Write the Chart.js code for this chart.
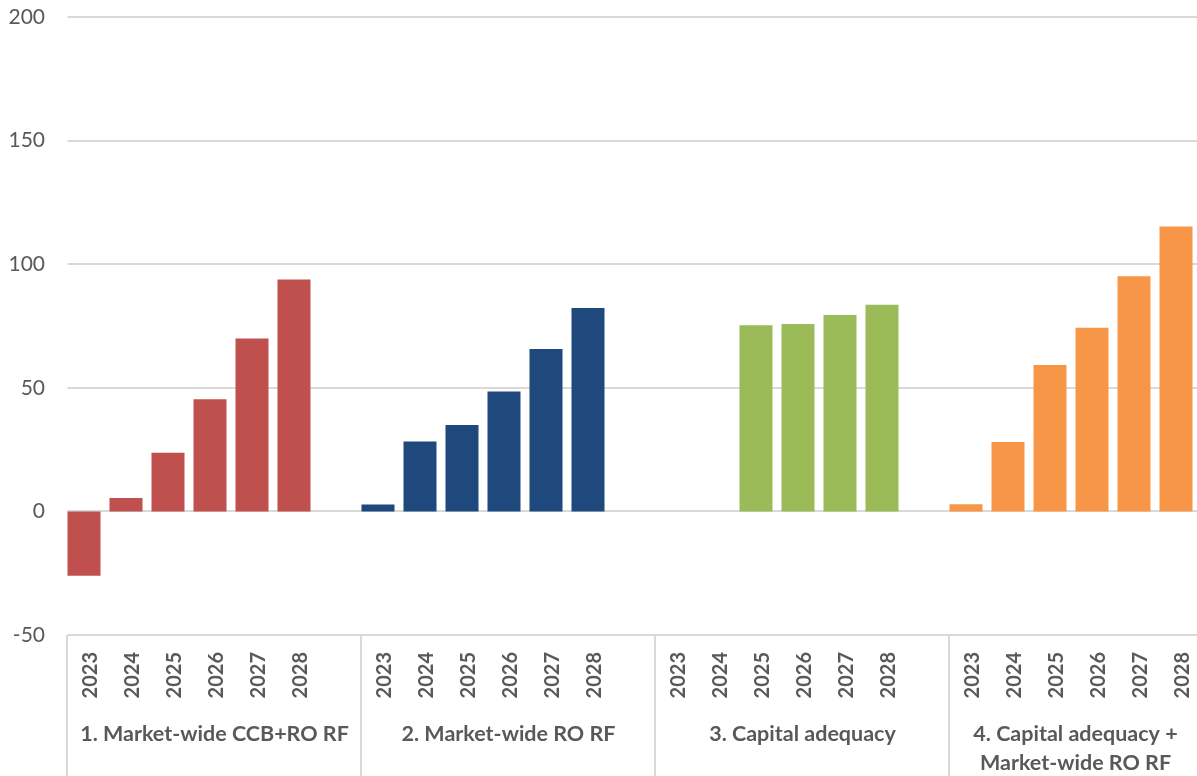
<!DOCTYPE html>
<html>
<head>
<meta charset="utf-8">
<script src="https://cdn.jsdelivr.net/npm/chart.js@4/dist/chart.umd.min.js"></script>
<style>
  html, body { margin: 0; padding: 0; background: #ffffff; overflow: hidden; }
  #wrap { width: 1197px; height: 776px; position: relative; }
</style>
</head>
<body>
<div id="wrap"><canvas id="chart"></canvas></div>
<script>
// Scenario groups and the years shown within each
const groupNames = [
  ['1. Market-wide CCB+RO RF'],
  ['2. Market-wide RO RF'],
  ['3. Capital adequacy'],
  ['4. Capital adequacy +', 'Market-wide RO RF']
];
const years = ['2023', '2024', '2025', '2026', '2027', '2028'];

// Values per scenario, 2023-2028
const marketWideCcbRo = [-26, 5.4, 23.7, 45.4, 69.9, 93.8];
const marketWideRo = [2.8, 28.3, 35.0, 48.5, 65.7, 82.3];
const capitalAdequacy = [null, null, 75.3, 75.8, 79.4, 83.6];
const capitalAdequacyRo = [2.9, 28.1, 59.2, 74.3, 95.1, 115.3];

const yTicks = [-50, 0, 50, 100, 150, 200];

const seriesValues = [marketWideCcbRo, marketWideRo, capitalAdequacy, capitalAdequacyRo];
const seriesColors = ['#C0504D', '#1F497D', '#9BBB59', '#F79646'];

// Flat category list: six years per group, one blank slot between groups
const labels = [];
const groupStart = [];
const groupSize = [];
seriesValues.forEach((vals, g) => {
  groupStart.push(labels.length);
  years.forEach(y => labels.push(y));
  if (g < seriesValues.length - 1) labels.push('');
  groupSize.push(labels.length - groupStart[g]);
});

const BAR_PCT = 0.786;

const datasets = seriesValues.map((vals, g) => {
  const data = labels.map(() => null);
  vals.forEach((v, i) => { data[groupStart[g] + i] = v; });
  return {
    label: groupNames[g].join(' '),
    data,
    backgroundColor: seriesColors[g],
    borderWidth: 0,
    grouped: false,
    barPercentage: BAR_PCT,
    categoryPercentage: 1.0
  };
});

const GRID = '#D9D9D9';
const TEXT = '#595959';
const FONT = 'Lato, "Open Sans", "DejaVu Sans", sans-serif';

function barGeometry(chart) {
  const x = chart.scales.x;
  const slot = x.getPixelForValue(1) - x.getPixelForValue(0);
  const barW = slot * BAR_PCT;
  return { x, slot, barW };
}

// Horizontal gridlines, the category separators and the group captions
const axisDecor = {
  id: 'axisDecor',
  beforeDatasetsDraw(chart) {
    const { ctx, chartArea, scales } = chart;
    const { x, barW } = barGeometry(chart);
    const left = x.getPixelForValue(0) - barW / 2;
    ctx.save();
    ctx.strokeStyle = GRID;
    ctx.lineWidth = 2;
    yTicks.forEach(t => {
      const py = Math.round(scales.y.getPixelForValue(t));
      ctx.beginPath();
      ctx.moveTo(left, py);
      ctx.lineTo(chartArea.right, py);
      ctx.stroke();
    });
    ctx.restore();
  },
  afterDraw(chart) {
    const { ctx, chartArea, height } = chart;
    const { x, slot, barW } = barGeometry(chart);
    ctx.save();
    ctx.strokeStyle = GRID;
    ctx.lineWidth = 2;
    groupStart.forEach((s, g) => {
      const gl = x.getPixelForValue(s) - barW / 2;
      const gr = gl + groupSize[g] * slot;
      ctx.beginPath();
      ctx.moveTo(Math.round(gl), chartArea.bottom);
      ctx.lineTo(Math.round(gl), height);
      ctx.stroke();

      ctx.fillStyle = TEXT;
      ctx.font = 'bold 21.5px ' + FONT;
      ctx.textAlign = 'center';
      ctx.textBaseline = 'middle';
      groupNames[g].forEach((ln, i) => {
        ctx.fillText(ln, (gl + gr) / 2, 734 + i * 29);
      });
    });
    ctx.restore();
  }
};

new Chart(document.getElementById('chart'), {
  type: 'bar',
  data: { labels, datasets },
  plugins: [axisDecor],
  options: {
    responsive: true,
    maintainAspectRatio: false,
    animation: false,
    layout: { padding: { top: 17, right: 0, left: 0, bottom: 0 } },
    plugins: { legend: { display: false }, tooltip: { enabled: false } },
    scales: {
      x: {
        grid: { display: false, drawTicks: false },
        border: { display: false },
        ticks: {
          autoSkip: false,
          minRotation: 90,
          maxRotation: 90,
          padding: 17,
          labelOffset: 7,
          color: TEXT,
          font: { family: FONT, size: 20, weight: 'bold' }
        },
        afterFit(scale) {
          scale.height = 141;
          scale.paddingLeft = 0;
          scale.paddingRight = 0;
        }
      },
      y: {
        min: -50,
        max: 200,
        afterBuildTicks(scale) { scale.ticks = yTicks.map(v => ({ value: v })); },
        grid: { display: false, drawTicks: false },
        border: { display: false },
        ticks: {
          padding: 18,
          color: TEXT,
          font: { family: FONT, size: 21 }
        },
        afterFit(scale) {
          scale.width = 63;
          scale.paddingTop = 0;
          scale.paddingBottom = 0;
        }
      }
    }
  }
});
</script>
</body>
</html>
